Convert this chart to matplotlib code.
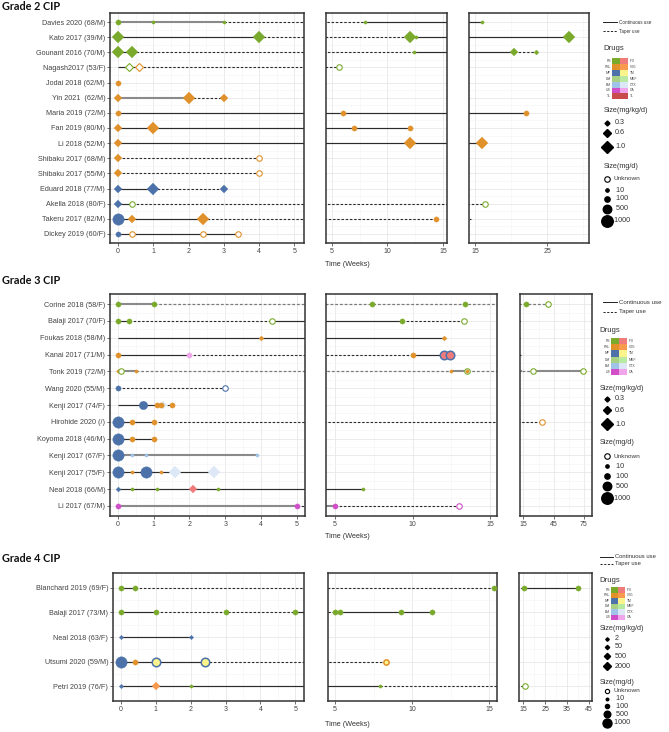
import matplotlib.pyplot as plt
import numpy as np

W, H = 669, 732
PT = 0.72  # points per pixel at dpi 100

plt.rcParams['font.family'] = ['Liberation Sans', 'DejaVu Sans']

DRUG_COLORS = {
    'PS': '#7aaa2c', 'PSL': '#e0912a', 'MP': '#4d72aa', 'DM': '#a9d083',
    'BM': '#9fc4e8', 'US': '#d04fc8', 'TL': '#c94c4c',
    'IFX': '#f07b7b', 'IVIG': '#f89a4e', 'TM': '#fbf48c', 'MMF': '#b8eaa2',
    'CTX': '#dce8f6', 'CA': '#f0a4ea',
}
DASH = (0, (2.2, 1.6))
LINE_STYLES = {
    'k-': dict(color='#2b2b2b', lw=0.85, ls='-'),
    'k--': dict(color='#2b2b2b', lw=0.8, ls=DASH),
    'g-': dict(color='#8a8a8a', lw=1.5, ls='-'),
    'g--': dict(color='#7a7a7a', lw=0.9, ls=DASH),
}

# marker diameters in pixels
MG_PX = {0: 5.5, 10: 3.3, 100: 5.3, 500: 8.5, 1000: 11.5}
KG_PX_A = {0.3: 5, 0.6: 8, 1.0: 11.5}
KG_PX_B = {2: 4.5, 50: 5.5, 500: 8, 2000: 10.5}

# ---------------- Grade 2 ----------------
g2_labels = ["Davies 2020 (68/M)", "Kato 2017 (39/M)", "Gounant 2016 (70/M)",
             "Nagash2017 (53/F)", "Jodai 2018 (62/M)", "Yin 2021  (62/M)",
             "Maria 2019 (72/M)", "Fan 2019 (80/M)", "Li 2018 (52/M)",
             "Shibaku 2017 (68/M)", "Shibaku 2017 (55/M)", "Eduard 2018 (77/M)",
             "Akella 2018 (80/F)", "Takeru 2017 (82/M)", "Dickey 2019 (60/F)"]
g2_segments = [
    (0, 0, 3, 'g-'), (0, 3, 8, 'k--'), (0, 8, 16, 'k-'),
    (1, 0, 4, 'k-'), (1, 4, 12, 'k--'), (1, 12, 28, 'k-'),
    (2, 0, 0.4, 'k-'), (2, 0.4, 12.4, 'k--'), (2, 12.4, 20.4, 'k-'), (2, 20.4, 23.5, 'k--'),
    (3, 0, 0.6, 'k-'), (3, 0.6, 5.6, 'k--'),
    (5, 0, 2, 'g-'), (5, 2, 3, 'k--'),
    (6, 0, 22, 'k-'),
    (7, 0, 12, 'k-'),
    (8, 0, 16, 'k-'),
    (9, 0, 4, 'k--'), (10, 0, 4, 'k--'),
    (11, 0, 1, 'k-'), (11, 1, 3, 'k--'),
    (12, 0, 0.4, 'k-'), (12, 0.4, 16.4, 'k--'),
    (13, 0, 2.4, 'k-'), (13, 2.4, 14.4, 'k--'),
    (14, 0, 3.4, 'k-'),
]
g2_points = [
    (0, 0, 'PS', 'o', 100), (0, 1, 'PS', 'o', 10), (0, 3, 'PS', 'o', 10), (0, 8, 'PS', 'o', 10), (0, 16, 'PS', 'o', 10),
    (1, 0, 'PS', 'D', 1.0), (1, 4, 'PS', 'D', 1.0), (1, 12, 'PS', 'D', 1.0), (1, 12.6, 'PS', 'o', 10), (1, 28, 'PS', 'D', 1.0),
    (2, 0, 'PS', 'D', 1.0), (2, 0.4, 'PS', 'D', 1.0), (2, 12.4, 'PS', 'o', 10), (2, 20.4, 'PS', 'D', 0.6), (2, 23.5, 'PS', 'D', 0.3),
    (3, 0.3, 'PS', 'd', 0.6), (3, 0.6, 'PSL', 'd', 0.6), (3, 5.6, 'PS', 'O', 0),
    (4, 0, 'PSL', 'o', 100),
    (5, 0, 'PSL', 'D', 0.6), (5, 2, 'PSL', 'D', 1.0), (5, 3, 'PSL', 'D', 0.6),
    (6, 0, 'PSL', 'o', 100), (6, 6, 'PSL', 'o', 100), (6, 22, 'PSL', 'o', 100),
    (7, 0, 'PSL', 'D', 0.6), (7, 1, 'PSL', 'D', 1.0), (7, 7, 'PSL', 'o', 100), (7, 12, 'PSL', 'o', 100),
    (8, 0, 'PSL', 'D', 0.6), (8, 12, 'PSL', 'D', 1.0), (8, 16, 'PSL', 'D', 1.0),
    (9, 0, 'PSL', 'D', 0.6), (9, 4, 'PSL', 'O', 0),
    (10, 0, 'PSL', 'D', 0.6), (10, 4, 'PSL', 'O', 0),
    (11, 0, 'MP', 'D', 0.6), (11, 1, 'MP', 'D', 1.0), (11, 3, 'MP', 'D', 0.6),
    (12, 0, 'MP', 'D', 0.6), (12, 0.4, 'PS', 'O', 0), (12, 16.4, 'PS', 'O', 0),
    (13, 0, 'MP', 'o', 1000), (13, 0.4, 'PSL', 'D', 0.6), (13, 2.4, 'PSL', 'D', 1.0), (13, 14.4, 'PSL', 'o', 100),
    (14, 0, 'MP', 'o', 100), (14, 0.4, 'PSL', 'O', 0), (14, 2.4, 'PSL', 'O', 0), (14, 3.4, 'PSL', 'O', 0),
]
g2_rings = []

# ---------------- Grade 3 ----------------
g3_labels = ["Corine 2018 (58/F)", "Balaji 2017 (70/F)", "Foukas 2018 (58/M)",
             "Kanai 2017 (71/M)", "Tonk 2019 (72/M)", "Wang 2020 (55/M)",
             "Kenji 2017 (74/F)", "Hirohide 2020 (/)", "Koyoma 2018 (46/M)",
             "Kenji 2017 (67/F)", "Kenji 2017 (75/F)", "Neal 2018 (66/M)", "Li 2017 (67/M)"]
g3_segments = [
    (0, 0, 1, 'g-'), (0, 1, 39, 'g--'),
    (1, 0, 0.3, 'k-'), (1, 0.3, 4.3, 'k--'), (1, 4.3, 9.3, 'k-'), (1, 9.3, 13.3, 'k--'),
    (2, 0, 12, 'k-'),
    (3, 0, 2, 'k-'), (3, 2, 10, 'k--'), (3, 10, 12.4, 'k-'),
    (4, 0, 0.5, 'g-'), (4, 0.5, 12.5, 'g--'), (4, 12.5, 13.5, 'g-'), (4, 13.5, 25, 'g--'), (4, 25, 74, 'g-'),
    (5, 0, 3, 'k--'),
    (6, 0, 1.25, 'k-'), (6, 1.25, 1.5, 'k--'),
    (7, 0, 1, 'k-'), (7, 1, 33, 'k--'),
    (8, 0, 1, 'k-'),
    (9, 0, 3.9, 'g-'),
    (10, 0, 2.7, 'k-'),
    (11, 0, 6.8, 'k-'),
    (12, 0, 5, 'g-'), (12, 5, 13, 'k--'),
]
g3_points = [
    (0, 0, 'PS', 'o', 100), (0, 1, 'PS', 'o', 100), (0, 7.4, 'PS', 'o', 100), (0, 13.4, 'PS', 'o', 100),
    (0, 18, 'PS', 'o', 100), (0, 39, 'PS', 'O', 0),
    (1, 0, 'PS', 'o', 100), (1, 0.3, 'PS', 'o', 100), (1, 4.3, 'PS', 'O', 0), (1, 9.3, 'PS', 'o', 100), (1, 13.3, 'PS', 'O', 0),
    (2, 4, 'PSL', 'D', 0.3), (2, 12, 'PSL', 'D', 0.3),
    (3, 0, 'PSL', 'o', 100), (3, 2, 'CA', 'o', 100), (3, 10, 'PSL', 'o', 100),
    (3, 12, 'IFX', 'o', 500), (3, 12.4, 'IFX', 'o', 500),
    (4, 0, 'PSL', 'o', 10), (4, 0.1, 'PS', 'O', 0), (4, 0.5, 'PSL', 'o', 10), (4, 12.5, 'PSL', 'o', 10),
    (4, 13.5, 'PS', 'O', 0), (4, 13.5, 'PSL', 'o', 10), (4, 25, 'PS', 'O', 0), (4, 74, 'PS', 'O', 0),
    (5, 0, 'MP', 'o', 100), (5, 3, 'MP', 'O', 0),
    (6, 0.7, 'MP', 'o', 500), (6, 1.25, 'CTX', 'D', 0.6), (6, 1.1, 'PSL', 'o', 100), (6, 1.2, 'PSL', 'o', 100),
    (6, 1.5, 'PSL', 'o', 100),
    (7, 0, 'MP', 'o', 1000), (7, 0.4, 'PSL', 'o', 100), (7, 1, 'PSL', 'o', 100), (7, 33, 'PSL', 'O', 0),
    (8, 0, 'MP', 'o', 1000), (8, 0.4, 'PSL', 'o', 100), (8, 1, 'PSL', 'o', 100),
    (9, 0, 'MP', 'o', 1000), (9, 0.4, 'BM', 'o', 10), (9, 0.8, 'BM', 'o', 10), (9, 3.9, 'BM', 'o', 10),
    (10, 0, 'MP', 'o', 1000), (10, 0.4, 'PSL', 'o', 10), (10, 0.8, 'MP', 'o', 1000), (10, 1.2, 'PSL', 'o', 10),
    (10, 1.6, 'CTX', 'D', 1.0), (10, 2.7, 'CTX', 'D', 1.0),
    (11, 0, 'MP', 'D', 0.3), (11, 0.4, 'PS', 'o', 10), (11, 1.1, 'PS', 'o', 10), (11, 2.1, 'IFX', 'D', 0.6),
    (11, 2.8, 'PS', 'o', 10), (11, 6.8, 'PS', 'o', 10),
    (12, 0, 'US', 'o', 100), (12, 5, 'US', 'o', 100), (12, 13, 'US', 'O', 0),
]
g3_rings = [(3, 12, 'MP'), (3, 12.4, 'MP')]

# ---------------- Grade 4 ----------------
g4_labels = ["Blanchard 2019 (69/F)", "Balaji 2017 (73/M)", "Neal 2018 (63/F)",
             "Utsumi 2020 (59/M)", "Petri 2019 (76/F)"]
g4_segments = [
    (0, 0, 0.4, 'k-'), (0, 0.4, 15.3, 'k--'), (0, 15.3, 40, 'k-'),
    (1, 0, 1, 'k-'), (1, 1, 5, 'k--'), (1, 5, 11.3, 'k-'),
    (2, 0, 2, 'k-'),
    (3, 0, 2.4, 'k-'), (3, 2.4, 8.3, 'k--'),
    (4, 0, 7.9, 'k-'), (4, 7.9, 16, 'k--'),
]
g4_points = [
    (0, 0, 'PS', 'o', 100), (0, 0.4, 'PS', 'o', 100), (0, 15.3, 'PS', 'o', 100), (0, 40, 'PS', 'o', 100),
    (1, 0, 'PS', 'o', 100), (1, 1, 'PS', 'o', 100), (1, 3, 'PS', 'o', 100), (1, 5, 'PS', 'o', 100),
    (1, 5.3, 'PS', 'o', 100), (1, 9.3, 'PS', 'o', 100), (1, 11.3, 'PS', 'o', 100),
    (2, 0, 'MP', 'D', 2), (2, 2, 'MP', 'D', 2),
    (3, 0, 'MP', 'o', 1000), (3, 0.4, 'PSL', 'o', 100), (3, 1, 'TM', 'o', 500), (3, 2.4, 'TM', 'o', 500),
    (3, 8.3, 'TM', 'o', 100),
    (4, 0, 'MP', 'D', 2), (4, 1, 'IVIG', 'D', 500), (4, 2, 'PS', 'o', 10), (4, 7.9, 'PS', 'o', 10),
    (4, 16, 'PS', 'O', 0),
]
g4_rings = [(3, 1, 'MP'), (3, 2.4, 'MP'), (3, 8.3, 'PSL')]

fig = plt.figure(figsize=(W / 100, H / 100), dpi=100)


def make_axes(x0, x1, y0, y1):
    return fig.add_axes([x0 / W, 1 - y1 / H, (x1 - x0) / W, (y1 - y0) / H])


def draw_point(ax, row, x, drug, shape, size, kg_px, ring=None):
    c = DRUG_COLORS[drug]
    if shape in ('o', 'O'):
        m, ms = 'o', MG_PX[size] * PT
    else:
        m, ms = 'D', kg_px[size] * PT / np.sqrt(2)
    if shape in ('O', 'd'):
        ax.plot(x, row, marker=m, ms=ms, mfc='white', mec=c, mew=0.8, ls='none', zorder=4)
    elif ring is not None:
        ax.plot(x, row, marker=m, ms=ms, mfc=c, mec=DRUG_COLORS[ring], mew=1.1, ls='none', zorder=4)
    else:
        ax.plot(x, row, marker=m, ms=ms, mfc=c, mec=c, mew=0.2, ls='none', zorder=4)


def draw_grade(labels, segments, points, rings, panels, kg_px):
    n = len(labels)
    ring_map = {(r, x): d for r, x, d in rings}
    for i, (box, xlim, major, minor, keep) in enumerate(panels):
        ax = make_axes(*box)
        ax.set_xlim(*xlim)
        ax.set_ylim(n - 0.4, -0.6)
        ax.set_xticks(major)
        ax.set_xticks(minor, minor=True)
        ax.set_yticks(range(n))
        ax.set_yticks(np.arange(n - 1) + 0.5, minor=True)
        ax.grid(which='major', color='#e8e8e8', lw=0.6)
        ax.grid(which='minor', color='#f4f4f4', lw=0.4)
        ax.set_axisbelow(True)
        for s in ax.spines.values():
            s.set_color('#333333')
            s.set_linewidth(1.1)
        ax.tick_params(which='minor', length=0)
        ax.tick_params(which='major', length=2, width=0.5, color='#333333',
                       labelsize=5, labelcolor='#444444', pad=1.5)
        if i == 0:
            ax.set_yticklabels(labels, fontsize=5.2)
        else:
            ax.set_yticklabels([])
            ax.tick_params(axis='y', length=0)
        for r, x0, x1, st in segments:
            ax.plot([x0, x1], [r, r], solid_capstyle='butt', zorder=2, **LINE_STYLES[st])
        for r, x, drug, shape, size in points:
            if keep[0] <= x <= keep[1]:
                draw_point(ax, r, x, drug, shape, size, kg_px, ring_map.get((r, x)))


draw_grade(g2_labels, g2_segments, g2_points, g2_rings, [
    ((110, 304, 13, 243), (-0.23, 5.27), range(6), np.arange(0.5, 5.5, 1), (-1, 5.05)),
    ((326, 447, 13, 243), (4.46, 15.36), [5, 10, 15], [7.5, 12.5], (4.95, 15.5)),
    ((469, 589, 13, 243), (14.13, 30.8), [15, 25], [20, 30], (15, 999)),
], KG_PX_A)
draw_grade(g3_labels, g3_segments, g3_points, g3_rings, [
    ((110, 305, 294, 516), (-0.22, 5.23), range(6), np.arange(0.5, 5.5, 1), (-1, 5.05)),
    ((326, 497, 294, 516), (4.42, 15.45), [5, 10, 15], [7.5, 12.5], (4.95, 15.5)),
    ((520, 592, 294, 516), (11.7, 82.9), [15, 45, 75], [30, 60], (15, 999)),
], KG_PX_A)
draw_grade(g4_labels, g4_segments, g4_points, g4_rings, [
    ((113, 304, 573, 701), (-0.23, 5.25), range(6), np.arange(0.5, 5.5, 1), (-1, 5.05)),
    ((328, 497, 573, 701), (4.55, 15.5), [5, 10, 15], [7.5, 12.5], (4.95, 15.5)),
    ((519, 592, 573, 701), (13.04, 46.4), [15, 25, 35, 45], [20, 30, 40], (15, 999)),
], KG_PX_B)

# overlay in pixel coordinates for titles and legends
ov = fig.add_axes([0, 0, 1, 1])
ov.set_xlim(0, W)
ov.set_ylim(H, 0)
ov.axis('off')

for y, t in [(6, 'Grade 2 CIP'), (281, 'Grade 3 CIP'), (559, 'Grade 4 CIP')]:
    ov.text(2, y, t, fontsize=7.8, fontweight='bold', family='Lato', va='center', ha='left', color='#111111')
for y in [264, 537, 725]:
    ov.text(325, y, 'Time (Weeks)', fontsize=5.2, va='center', ha='left', color='#333333')

left_drugs = ['PS', 'PSL', 'MP', 'DM', 'BM', 'US', 'TL']
right_drugs = ['IFX', 'IVIG', 'TM', 'MMF', 'CTX', 'CA', 'TL']


def draw_legend(line_x, line_y, fs_line, title_x, drugs_y, grid, n_rows,
                kg_title_y, kg_vals, kg_y, kg_px, mg_title_y, mg_y, mg_scale=1.0):
    for y, st, txt in zip(line_y, ['k-', 'k--'], ['Continuous use', 'Taper use']):
        ov.plot(line_x, [y, y], color='#222222', lw=0.7, ls=LINE_STYLES[st]['ls'])
        ov.text(line_x[1] + 2, y, txt, fontsize=fs_line, va='center', color='#333333')
    ov.text(title_x, drugs_y, 'Drugs', fontsize=5.6, va='center', color='#333333')
    gx, cw, gy, ch = grid
    for k in range(n_rows):
        a, b = left_drugs[k], right_drugs[k]
        yc = gy + ch * k
        ov.add_patch(plt.Rectangle((gx, yc), cw, ch, color=DRUG_COLORS[a], lw=0))
        ov.add_patch(plt.Rectangle((gx + cw, yc), cw, ch, color=DRUG_COLORS[b], lw=0))
        ov.text(gx - 1, yc + ch / 2, a, fontsize=2.4, ha='right', va='center', color='#444444')
        ov.text(gx + 2 * cw + 1.5, yc + ch / 2, b, fontsize=2.4, ha='left', va='center', color='#444444')
    ov.text(title_x + 1, kg_title_y, 'Size(mg/kg/d)', fontsize=5.2, va='center', color='#333333')
    for v, y in zip(kg_vals, kg_y):
        ov.plot(607, y, marker='D', ms=kg_px[v] * PT / np.sqrt(2) * mg_scale, color='black', ls='none')
        ov.text(615, y, str(v), fontsize=5.2, va='center', color='#333333')
    ov.text(title_x + 1, mg_title_y, 'Size(mg/d)', fontsize=5.2, va='center', color='#333333')
    for v, y in zip([0, 10, 100, 500, 1000], mg_y):
        if v == 0:
            ov.plot(607, y, marker='o', ms=MG_PX[0] * PT * mg_scale, mfc='white', mec='black', mew=0.8, ls='none')
            ov.text(613, y, 'Unknown', fontsize=4.6, va='center', color='#333333')
        else:
            ov.plot(607, y, marker='o', ms=MG_PX[v] * PT * mg_scale, color='black', ls='none')
            ov.text(614 if v < 1000 else 612.5, y, ' ' + str(v), fontsize=5.2, va='center', color='#333333')


draw_legend([603, 617], [22, 31], 3.3, 603, 48, (612, 8, 58, 5.9), 7,
            110, [0.3, 0.6, 1.0], [123, 133, 147], KG_PX_A, 167, [179, 190, 199, 209, 221])
draw_legend([603, 617], [302, 312], 4.4, 599, 331, (611, 8, 338, 6.2), 6,
            388, [0.3, 0.6, 1.0], [399, 410, 424], KG_PX_A, 443, [456, 466, 476, 486, 498])
draw_legend([600, 613], [557, 564], 4.2, 599, 580, (611, 7, 587, 5.5), 6,
            629, [2, 50, 500, 2000], [639, 647, 656, 666], KG_PX_B, 682, [691, 699, 706, 714, 723],
            mg_scale=0.78)

fig.savefig('out.png', dpi=100)
